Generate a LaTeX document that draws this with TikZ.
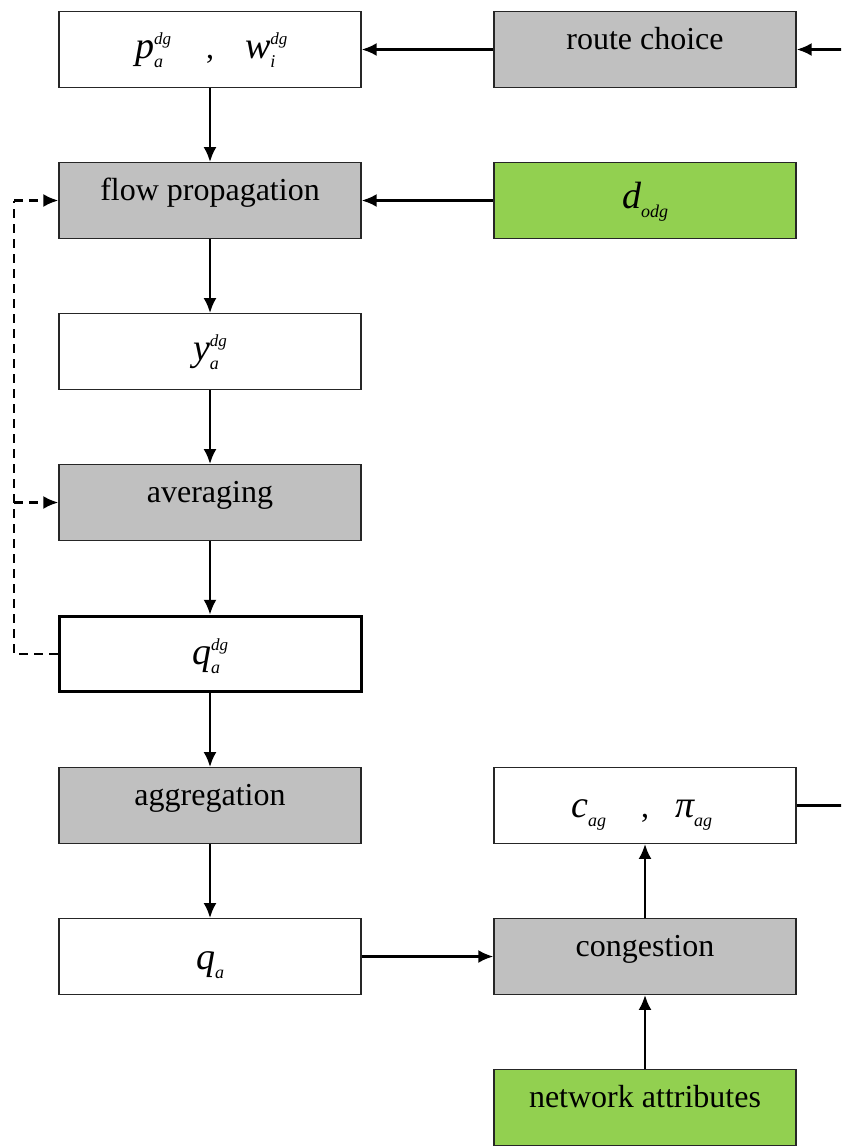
\documentclass[tikz,border=0pt]{standalone}
\usepackage{fontspec}
\setmainfont{Liberation Serif}
\usetikzlibrary{arrows.meta}
\definecolor{boxgray}{HTML}{C0C0C0}
\definecolor{boxgreen}{HTML}{92D050}
\newcommand\msym[3]{{\fontsize{38}{38}\selectfont\itshape #1}\ooalign{\raisebox{14pt}{\fontsize{17}{17}\selectfont\itshape #2}\hfil\cr\raisebox{-9pt}{\fontsize{18}{18}\selectfont\itshape #3}\hfil\cr}}
\newcommand\msub[2]{{\fontsize{38}{38}\selectfont\itshape #1}\raisebox{-9pt}{\fontsize{18}{18}\selectfont\itshape #2}}
\newcommand\up[2]{\raisebox{#1}[0pt][0pt]{#2}}
\begin{document}
\begin{tikzpicture}[x=1pt,y=-1pt,
  box/.style={draw=black!85, line width=1.4pt, minimum width=302pt, minimum height=75.5pt, inner sep=0pt, anchor=center, font=\fontsize{32}{38}\selectfont},
  graybox/.style={box, fill=boxgray},
  greenbox/.style={box, fill=boxgreen},
  whitebox/.style={box, fill=white},
  thickbox/.style={box, fill=white, line width=3pt, draw=black},
  arr/.style={line width=2.4pt, -{Latex[length=15pt,width=13pt]}},
  darr/.style={line width=2.4pt, dash pattern=on 9pt off 6pt, -{Latex[length=15pt,width=13pt]}},
  dline/.style={line width=2.4pt, dash pattern=on 9pt off 6pt},
  pline/.style={line width=2.4pt}]
\clip (0,0) rectangle (841,1146);
% left column
\node[whitebox] (pw) at (210,49.5) {\up{-8.5pt}{\llap{\msym{p}{dg}{a}\hspace{35pt}},\rlap{\hspace{31pt}\msym{w}{dg}{i}}}};
\node[graybox] (flow) at (210,200.5) {\up{0pt}{flow propagation}};
\node[whitebox] (y) at (210,351.5) {\up{-9pt}{\msym{y}{dg}{a}}};
\node[graybox] (avg) at (210,502.5) {\up{0pt}{averaging}};
\node[thickbox] (qdg) at (210,654) {\up{-10pt}{\msym{q}{dg}{a}}};
\node[graybox] (agg) at (210,805.5) {\up{0pt}{aggregation}};
\node[whitebox] (qa) at (210,956.5) {\up{-13pt}{\msub{q}{a}}};
% right column
\node[graybox] (route) at (645,49.5) {\up{0pt}{route choice}};
\node[greenbox] (d) at (645,200.5) {\up{-7.5pt}{\msub{d}{odg}}};
\node[whitebox] (c) at (645,805.5) {\up{-12pt}{\llap{\msub{c}{ag}\hspace{35pt}},\rlap{\hspace{26pt}\msub{\char"03C0}{ag}}}};
\node[graybox] (cong) at (645,956.5) {\up{0pt}{congestion}};
\node[greenbox] (net) at (645,1107.5) {\up{0pt}{network attributes}};
% solid connectors
\draw[arr] (route.west) -- (pw.east);
\draw[arr] (d.west) -- (flow.east);
\draw[arr] (pw.south) -- (flow.north);
\draw[arr] (flow.south) -- (y.north);
\draw[arr] (y.south) -- (avg.north);
\draw[arr] (avg.south) -- (qdg.north);
\draw[arr] (qdg.south) -- (agg.north);
\draw[arr] (agg.south) -- (qa.north);
\draw[arr] (qa.east) -- (cong.west);
\draw[arr] (cong.north) -- (c.south);
\draw[arr] (net.north) -- (cong.south);
% feedback from c to route choice (runs beyond the right edge)
\coordinate (rc) at (852,805.5);
\coordinate (rr) at (852,49.5);
\draw[pline] (c.east) -- (rc) -- (rr);
\draw[arr] (rr) -- (route.east);
% dashed feedback
\coordinate (dl) at (14,654);
\coordinate (df) at (14,200.5);
\coordinate (da) at (14,502.5);
\draw[dline] (qdg.west) -- (dl) -- (df);
\draw[darr] (df) -- (flow.west);
\draw[darr] (da) -- (avg.west);
\end{tikzpicture}
\end{document}
